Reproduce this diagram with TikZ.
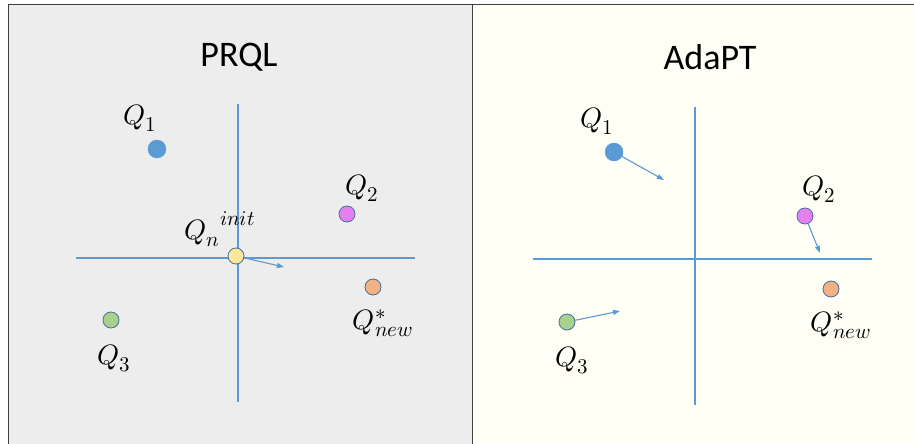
\documentclass[tikz,border=0pt]{standalone}
\usepackage{fontspec}
\usepackage{unicode-math}
\setmainfont{Carlito}
\DeclareMathSizes{28}{28}{21}{16}
\usetikzlibrary{arrows.meta}
\definecolor{leftbg}{HTML}{EDEDED}
\definecolor{rightbg}{HTML}{FFFFF5}
\definecolor{axisblue}{HTML}{5B9BD5}
\definecolor{dotedge}{HTML}{41719C}
\definecolor{qone}{HTML}{5B9BD5}
\definecolor{qtwo}{HTML}{E680F0}
\definecolor{qthree}{HTML}{A9D18E}
\definecolor{qnew}{HTML}{F4B183}
\definecolor{qinit}{HTML}{FFE699}
\definecolor{frame}{HTML}{404040}
\tikzset{
  x=1pt, y=-1pt,
  axisline/.style={draw=axisblue, line width=1.2pt},
  dot/.style={circle, draw=dotedge, line width=0.8pt, minimum size=16pt, inner sep=0pt},
  bigdot/.style={circle, draw=qone, fill=qone, minimum size=18pt, inner sep=0pt},
  movearrow/.style={draw=axisblue, line width=1.1pt, -{Triangle[length=7pt,width=5pt]}},
  qlabel/.style={inner sep=0pt, font=\fontsize{28}{33}\selectfont},
  title/.style={inner sep=0pt, font=\fontsize{36}{42}\selectfont}
}
\begin{document}
\begin{tikzpicture}
\useasboundingbox (0,0) rectangle (914,444);
\fill[white] (0,0) rectangle (914,444);
% panels
\fill[leftbg] (8,5) rectangle (472,444);
\fill[rightbg] (472,5) rectangle (914,444);
\draw[frame, line width=1pt] (8,444) -- (8,5) -- (914,5);
\draw[frame, line width=1pt] (472,5) -- (472,444);

% ---------- PRQL ----------
\node[title] (t1) at (239,57) {PRQL};
\coordinate (lvt) at (238,104);
\coordinate (lvb) at (238,402);
\coordinate (lhl) at (76,258);
\coordinate (lhr) at (415,258);
\draw[axisline] (lvt) -- (lvb);
\draw[axisline] (lhl) -- (lhr);

\node[bigdot] (lq1) at (157,149) {};
\node[dot, fill=qtwo] (lq2) at (347,214) {};
\node[dot, fill=qthree] (lq3) at (111,320) {};
\node[dot, fill=qnew] (lqn) at (373,287) {};
\node[dot, fill=qinit] (lqi) at (236,256) {};

\node[qlabel] (llq1) at (140,118) {$Q_1$};
\node[qlabel] (llq2) at (362,188) {$Q_2$};
\node[qlabel] (llq3) at (114,358) {$Q_3$};
\node[qlabel] (llqn) at (383,323) {$Q^{*}_{new}$};
\node[qlabel] (llqi) at (220,229) {${Q_n}^{init}$};

\coordinate (la) at (284,267);
\draw[movearrow] (lqi) -- (la);

% ---------- AdaPT ----------
\node[title] (t2) at (710,57) {AdaPT};
\coordinate (rvt) at (695,107);
\coordinate (rvb) at (695,405);
\coordinate (rhl) at (533,259);
\coordinate (rhr) at (872,259);
\draw[axisline] (rvt) -- (rvb);
\draw[axisline] (rhl) -- (rhr);

\node[bigdot] (rq1) at (614,152) {};
\node[dot, fill=qtwo] (rq2) at (805,216) {};
\node[dot, fill=qthree] (rq3) at (567,322) {};
\node[dot, fill=qnew] (rqn) at (831,289) {};

\node[qlabel] (rlq1) at (597,121) {$Q_1$};
\node[qlabel] (rlq2) at (819,189) {$Q_2$};
\node[qlabel] (rlq3) at (572,360) {$Q_3$};
\node[qlabel] (rlqn) at (841,325) {$Q^{*}_{new}$};

\coordinate (ra1) at (664,180);
\coordinate (ra2) at (820,253);
\coordinate (ra3) at (620,311);
\draw[movearrow] (rq1) -- (ra1);
\draw[movearrow] (rq2) -- (ra2);
\draw[movearrow] (rq3) -- (ra3);
\end{tikzpicture}
\end{document}
